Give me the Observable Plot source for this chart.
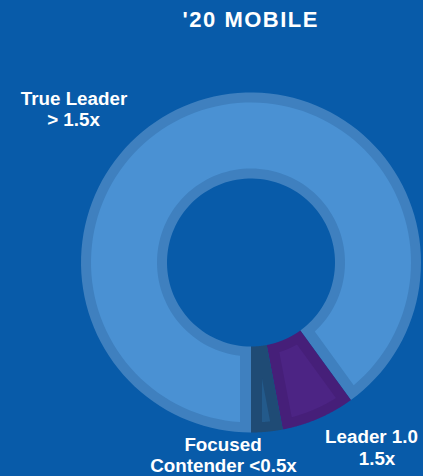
<!DOCTYPE html>
<html>
<head>
<meta charset="utf-8">
<script src="https://cdn.jsdelivr.net/npm/d3@7"></script>
<script src="https://cdn.jsdelivr.net/npm/@observablehq/plot@0.6"></script>
<style>
  html, body { margin: 0; padding: 0; background: #085ba9; }
  #chart { width: 423px; height: 476px; overflow: hidden; }
</style>
</head>
<body>
<div id="chart"></div>
<script>
// ---- data ----
const title = "'20 MOBILE";
const categories = ["True Leader", "Leader", "Focused Contender"];
const shares = [90, 7, 3];               // percent of the ring
const labelLines = [
  ["True Leader", "> 1.5x"],
  ["Leader 1.0", "1.5x"],
  ["Focused", "Contender <0.5x"]
];

// ---- styles / layout ----
const W = 423, H = 476;
const CX = 250.5, CY = 262, R_PX = 170;   // ring centre & outer radius in px
const rInner = 84 / R_PX;                  // inner radius (outer = 1)
const bandArc = 10 / R_PX;                 // border width along arcs
const bandRad = 11 / R_PX;                 // border width along radial edges
const borderColors = ["#3f80bf", "#461f79", "#1f4b75"];
const fillColors   = ["#4a91d3", "#4c2484", "#235a8b"];
const bg = "#085ba9";
const labelPos = [   // px positions of each text line (centre x, baseline y)
  [[73.5, 104.5], [73, 125.5]],
  [[371, 442.5], [376.5, 464]],
  [[222.5, 450], [223, 471.5]]
];
const titlePos = [250.3, 26];
const titleSpacing = "1.5px";

const toX = px => (px - CX) / R_PX;
const toY = py => (CY - py) / R_PX;

// ---- geometry from data ----
const total = d3.sum(shares);
const startAngle = Math.PI;  // ring starts at 6 o'clock, runs clockwise
let acc = startAngle;
const slices = shares.map((v, i) => {
  const a0 = acc, a1 = acc + (v / total) * 2 * Math.PI;
  acc = a1;
  return {i, a0, a1};
});
const pt = (rho, a) => ({x: rho * Math.sin(a), y: rho * Math.cos(a)});
const N = 120;
function ringPolygon(s, id, inset) {
  const ro = 1 - (inset ? bandArc : 0);
  const ri = rInner + (inset ? bandArc : 0);
  const w = inset ? bandRad : 0;
  const pts = [];
  const half = (s.a1 - s.a0) / 2;
  const span = rho => {
    const d = Math.asin(Math.min(1, w / rho));
    return [s.a0 + d, s.a1 - d];
  };
  let [o0, o1] = span(ro);
  if (o1 <= o0) return [];
  for (let k = 0; k <= N; k++) pts.push(pt(ro, o0 + (o1 - o0) * k / N));
  let [i0, i1] = span(ri);
  if (i1 <= i0) {
    const apex = w / Math.sin(half);
    pts.push(pt(apex, s.a0 + half));
  } else {
    for (let k = N; k >= 0; k--) pts.push(pt(ri, i0 + (i1 - i0) * k / N));
  }
  return pts.map(p => ({...p, id, color: inset ? fillColors[s.i] : borderColors[s.i], cat: categories[s.i]}));
}
const bands = slices.flatMap(s => ringPolygon(s, "b" + s.i, false));
const insets = slices.flatMap(s => ringPolygon(s, "f" + s.i, true));

const labels = labelLines.flatMap((lines, i) =>
  lines.map((t, j) => ({text: t, x: toX(labelPos[i][j][0]), y: toY(labelPos[i][j][1])})));

const chart = Plot.plot({
  width: W, height: H,
  margin: 0,
  style: {background: bg, overflow: "visible"},
  x: {domain: [toX(0), toX(W)], axis: null},
  y: {domain: [toY(H), toY(0)], axis: null},
  color: {type: "identity"},
  marks: [
    Plot.line(bands, {x: "x", y: "y", z: "id", fill: "color", stroke: null, curve: "linear"}),
    Plot.line(insets, {x: "x", y: "y", z: "id", fill: "color", stroke: null, curve: "linear"}),
    Plot.text([title], {
      x: toX(titlePos[0]), y: toY(titlePos[1]), text: d => d,
      fill: "white", fontSize: 22, fontWeight: "bold",
      fontFamily: "Liberation Sans, Arial, sans-serif",
      lineAnchor: "bottom", textAnchor: "middle"
    }),
    Plot.text(labels, {
      x: "x", y: "y", text: "text",
      fill: "white", fontSize: 18.8, fontWeight: "bold",
      fontFamily: "Liberation Sans, Arial, sans-serif",
      lineAnchor: "bottom", textAnchor: "middle"
    })
  ]
});
d3.select(chart).selectAll("text")
  .filter(function () { return this.textContent === title; })
  .style("letter-spacing", titleSpacing);
document.getElementById("chart").appendChild(chart);
</script>
</body>
</html>
